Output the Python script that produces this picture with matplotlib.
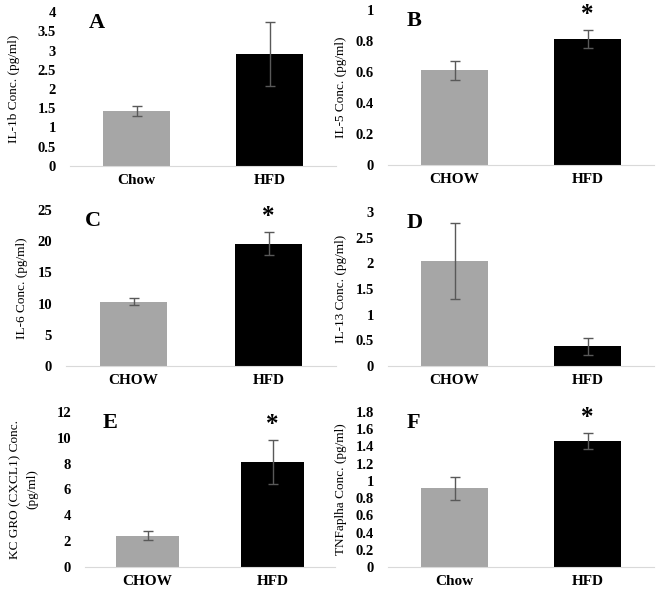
import matplotlib
matplotlib.use("Agg")
import matplotlib.pyplot as plt

plt.rcParams['font.family'] = ['Liberation Serif', 'DejaVu Serif']

# panel data: labels, means, error (SEM), y-axis
labels_a = ["Chow", "HFD"]
mean_a = [1.43, 2.92]
err_a = [0.14, 0.83]
ticks_a = [0, 0.5, 1, 1.5, 2, 2.5, 3, 3.5, 4]

labels_b = ["CHOW", "HFD"]
mean_b = [0.61, 0.81]
err_b = [0.06, 0.058]
ticks_b = [0, 0.2, 0.4, 0.6, 0.8, 1]

labels_c = ["CHOW", "HFD"]
mean_c = [10.3, 19.6]
err_c = [0.6, 1.8]
ticks_c = [0, 5, 10, 15, 20, 25]

labels_d = ["CHOW", "HFD"]
mean_d = [2.05, 0.38]
err_d = [0.74, 0.16]
ticks_d = [0, 0.5, 1, 1.5, 2, 2.5, 3]

labels_e = ["CHOW", "HFD"]
mean_e = [2.41, 8.1]
err_e = [0.35, 1.7]
ticks_e = [0, 2, 4, 6, 8, 10, 12]

labels_f = ["Chow", "HFD"]
mean_f = [0.914, 1.465]
err_f = [0.135, 0.09]
ticks_f = [0, 0.2, 0.4, 0.6, 0.8, 1, 1.2, 1.4, 1.6, 1.8]

panels = [
    ("A", labels_a, mean_a, err_a, ticks_a, "IL-1b Conc. (pg/ml)", False),
    ("B", labels_b, mean_b, err_b, ticks_b, "IL-5 Conc. (pg/ml)", True),
    ("C", labels_c, mean_c, err_c, ticks_c, "IL-6 Conc. (pg/ml)", True),
    ("D", labels_d, mean_d, err_d, ticks_d, "IL-13 Conc. (pg/ml)", False),
    ("E", labels_e, mean_e, err_e, ticks_e, "KC GRO (CXCL1) Conc.\n(pg/ml)", True),
    ("F", labels_f, mean_f, err_f, ticks_f, "TNFaplha Conc. (pg/ml)", True),
]

W, H = 660, 593
# axes boxes in pixels: left, baseline y, width, height, ylabel x
boxes = [
    (70, 166, 266, 154, 14),
    (388, 165, 266, 155, 341),
    (66, 366, 270, 156, 22),
    (388, 366, 266, 154, 341),
    (85, 567, 250, 155, 24),
    (388, 567, 266, 155, 341),
]

fig = plt.figure(figsize=(6.6, 5.93), dpi=100)

for (letter, labels, means, errs, ticks, ylab, star), (l, b, w, h, lx) in zip(panels, boxes):
    ax = fig.add_axes([l / W, 1 - b / H, w / W, h / H])
    x = range(len(labels))
    ax.bar(x, means, width=0.5, color=["#a6a6a6", "#000000"], zorder=2)
    ax.errorbar(x, means, yerr=errs, fmt="none", ecolor="#595959",
                elinewidth=1, capsize=3.5, capthick=1, zorder=3)
    ax.set_xlim(-0.5, 1.5)
    ax.set_ylim(0, ticks[-1])
    ax.set_yticks(ticks)
    ax.set_yticklabels([f"{t:g}" for t in ticks], fontweight="bold", fontsize=10.5)
    ax.set_xticks(list(x))
    ax.set_xticklabels(labels, fontweight="bold", fontsize=11)
    ax.tick_params(axis="y", length=0, pad=10)
    ax.tick_params(axis="x", length=0, pad=6)
    for s in ["top", "right", "left"]:
        ax.spines[s].set_visible(False)
    ax.spines["bottom"].set_color("#d9d9d9")
    ax.set_ylabel(ylab, fontsize=9.5, linespacing=1.5, va="center")
    ax.yaxis.set_label_coords((lx - l) / w, 0.5)
    ax.text(0.07, 0.93, letter, transform=ax.transAxes, fontsize=16,
            fontweight="bold", va="center", ha="left")
    if star:
        ax.text(1, means[1] + errs[1] + ticks[-1] * 0.1, "*", ha="center",
                va="center", fontsize=18, fontweight="bold")

fig.savefig("out.png", dpi=100)
